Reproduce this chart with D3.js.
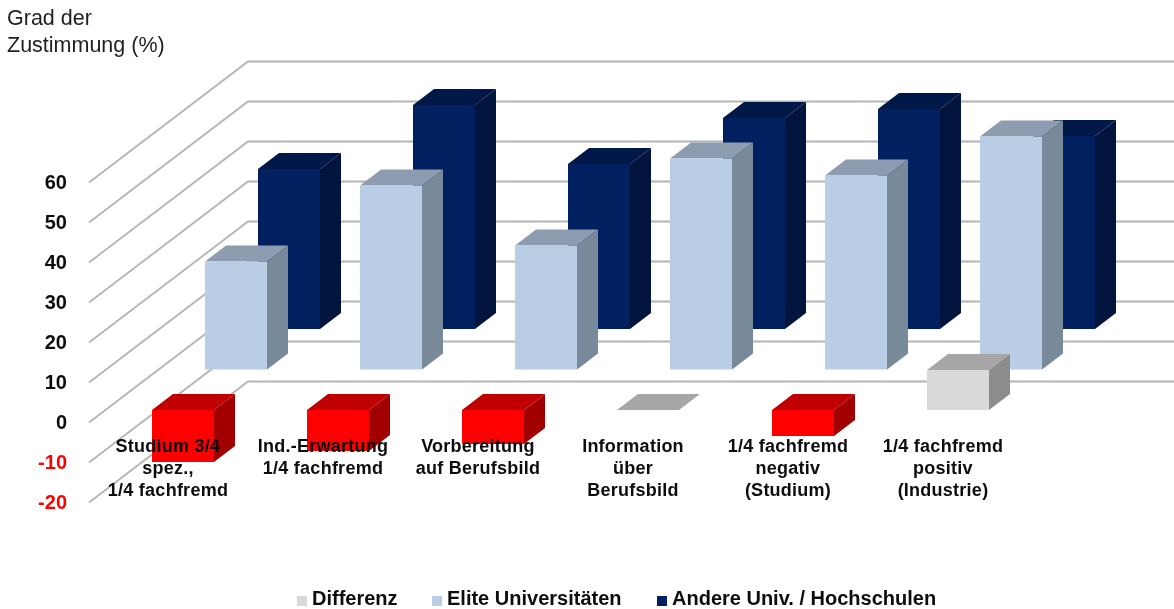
<!DOCTYPE html>
<html lang="de"><head><meta charset="utf-8">
<script src="https://cdn.jsdelivr.net/npm/d3@7/dist/d3.min.js"></script>
<style>
html,body{margin:0;padding:0;background:#fff;overflow:hidden}
svg{display:block;font-family:"Liberation Sans",Arial,sans-serif;filter:blur(0.45px)}
</style></head><body><svg id="c" width="1174" height="609"></svg>
<script>
const categories=[["Studium 3/4","spez.,","1/4 fachfremd"],["Ind.-Erwartung","1/4 fachfremd"],["Vorbereitung","auf Berufsbild"],["Information","über","Berufsbild"],["1/4 fachfremd","negativ","(Studium)"],["1/4 fachfremd","positiv","(Industrie)"]];
const differenz=[-13,-10.25,-8.5,0,-6.5,10];
const elite=[27,46,31,52.75,48.5,58.25];
const andere=[40,56,41.25,52.75,55,48.25];
const ticks=[60,50,40,30,20,10,0,-10,-20];
const seriesNames=["Differenz","Elite Universitäten","Andere Univ. / Hochschulen"];
const titleLines=["Grad der","Zustimmung (%)"];
const paletteGrey={face:"#d9d9d9",top:"#a6a6a6",side:"#8c8c8c"};
const paletteRed={face:"#ff0000",top:"#c00000",side:"#a00000"};
const paletteElite={face:"#b9cde5",top:"#8d9cb0",side:"#78899a"};
const paletteAndere={face:"#002060",top:"#001848",side:"#00143e"};

const svg=d3.select("#c");
const barW=62;
const x=d3.scaleLinear().domain([0,5]).range([152,927]);
const y=d3.scaleLinear().domain([-20,60]).range([502.5,182.5]);
// series planes, front to back
const planeX=d3.scaleLinear().domain([0,2]).range([0,106]);
const planeY=d3.scaleLinear().domain([0,2]).range([0,-81]);
const depthX=21, depthY=-16;
const wallDx=159, wallDy=-121;
const zeroShift=-12.5;

const grid=svg.append("g");
ticks.forEach(t=>{
  grid.append("path").attr("fill","none").attr("stroke","#b4b4b4").attr("stroke-width",1.8)
    .attr("d",d3.line()([[89,y(t)],[89+wallDx,y(t)+wallDy],[1174,y(t)+wallDy]]));
});

const axis=d3.axisLeft(y).tickValues(ticks).tickSize(0).tickPadding(0).tickFormat(d=>String(d));
const ag=svg.append("g").attr("transform","translate(67,0)").call(axis);
ag.select(".domain").remove();
ag.selectAll("text").attr("font-size",20).attr("font-weight","bold")
  .attr("font-family",'"Liberation Sans",Arial,sans-serif')
  .attr("fill",d=>d<0?"#ff0000":"#0d0d0d");

function bar(g,i,plane,v,pal){
  const x0=x(i)+planeX(plane);
  const baseY=y(0)+zeroShift+planeY(plane);
  const valY=baseY-(y(0)-y(v));
  const yTop=Math.min(baseY,valY), yBot=Math.max(baseY,valY);
  const x1=x0+barW;
  const line=d3.line();
  g.append("path").attr("fill",pal.side).attr("d",line([[x1,yTop],[x1+depthX,yTop+depthY],[x1+depthX,yBot+depthY],[x1,yBot]])+"Z");
  g.append("path").attr("fill",pal.top).attr("d",line([[x0,yTop],[x0+depthX,yTop+depthY],[x1+depthX,yTop+depthY],[x1,yTop]])+"Z");
  if(yBot>yTop) g.append("rect").attr("x",x0).attr("y",yTop).attr("width",barW).attr("height",yBot-yTop).attr("fill",pal.face);
}
const bars=svg.append("g");
andere.forEach((v,i)=>bar(bars,i,2,v,paletteAndere));
elite.forEach((v,i)=>bar(bars,i,1,v,paletteElite));
differenz.forEach((v,i)=>bar(bars,i,0,v,v<0?paletteRed:paletteGrey));

const labels=svg.append("g").attr("font-size",18).attr("font-weight","bold").attr("fill","#0d0d0d").attr("text-anchor","middle").attr("letter-spacing",0.25);
categories.forEach((lines,i)=>{
  lines.forEach((s,j)=>{
    labels.append("text").attr("x",x(i)+16).attr("y",451.5+j*22).text(s);
  });
});

svg.append("g").attr("font-size",21.5).attr("fill","#1f1f1f").selectAll("text").data(titleLines).join("text")
  .attr("x",7).attr("y",(d,i)=>25+i*27).text(d=>d);

const legendX=[297,432,657], legendText=[312,447,672];
const legendColors=[paletteGrey.face,paletteElite.face,paletteAndere.face];
const lg=svg.append("g");
seriesNames.forEach((n,i)=>{
  lg.append("rect").attr("x",legendX[i]).attr("y",596).attr("width",10).attr("height",10).attr("fill",legendColors[i]);
  lg.append("text").attr("x",legendText[i]).attr("y",604.7).attr("font-size",20).attr("font-weight","bold").attr("fill","#0d0d0d").text(n);
});
</script></body></html>
